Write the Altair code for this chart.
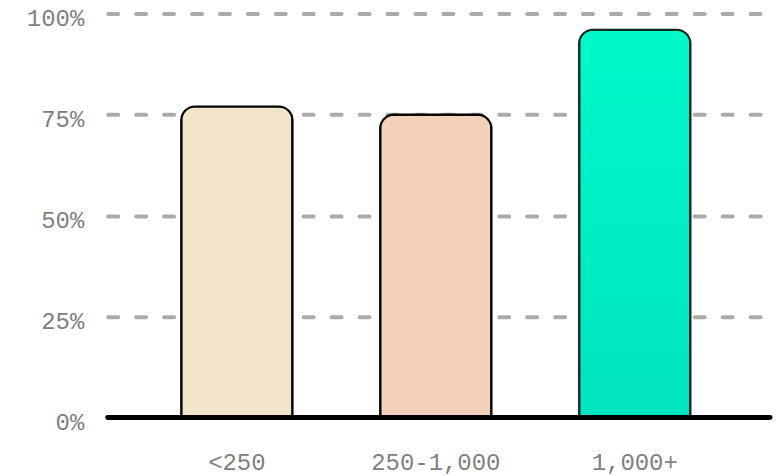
import altair as alt
import pandas as pd

categories = ["<250", "250-1,000", "1,000+"]
values = [77, 75, 96]
fills = ["#F2E4C9", "#F3D0BA", "gradient"]

df = pd.DataFrame({"cat": categories, "val": values, "fill": fills})

W, H = 664, 405
FONT = "Liberation Mono"

x_enc = alt.X("cat:N", sort=categories,
              scale=alt.Scale(paddingInner=0.441, paddingOuter=0.385, align=0.48),
              axis=alt.Axis(title=None, labelAngle=0, labelFont=FONT, labelFontSize=24,
                            labelColor="#808080", labelPadding=33, ticks=False, domain=False,
                            grid=False))
y_enc = alt.Y("val:Q", scale=alt.Scale(domain=[0, 100], nice=False),
              axis=alt.Axis(title=None, values=[0, 25, 50, 75, 100],
                            labelExpr="datum.value + '%'",
                            labelFont=FONT, labelFontSize=24, labelColor="#808080",
                            labelPadding=24, labelOffset=5, labelBound=False,
                            ticks=False, domain=False,
                            grid=True, gridColor="#aaaaaa", gridWidth=4,
                            gridDash=[10, 18], gridCap="round"))

base = alt.Chart(df)

bar_style = dict(cornerRadiusTopLeft=14, cornerRadiusTopRight=14, strokeWidth=2.2)

bars_plain = base.transform_filter(alt.datum.fill != "gradient").mark_bar(
    stroke="black", **bar_style
).encode(
    x=x_enc, y=y_enc,
    color=alt.Color("fill:N", scale=None, legend=None),
)

bars_grad = base.transform_filter(alt.datum.fill == "gradient").mark_bar(
    stroke="#08261f",
    color=alt.Gradient(
        gradient="linear",
        stops=[alt.GradientStop(color="#00F9C9", offset=0),
               alt.GradientStop(color="#00E3BF", offset=1)],
        x1=0, x2=0, y1=0, y2=1,
    ),
    **bar_style
).encode(x=x_enc, y=y_enc)

baseline = alt.Chart(pd.DataFrame({"v": [0]})).mark_rule(
    color="black", strokeWidth=5, strokeCap="round"
).encode(y=alt.datum(0))

chart = alt.layer(bars_plain, bars_grad, baseline).properties(
    width=W, height=H,
    background="white",
    autosize=alt.AutoSizeParams(type="none"),
    padding={"left": 108, "top": 13, "right": 12, "bottom": 58},
).configure_view(strokeWidth=0)

chart.save("out.html", embed_options={"renderer": "svg", "actions": False})
